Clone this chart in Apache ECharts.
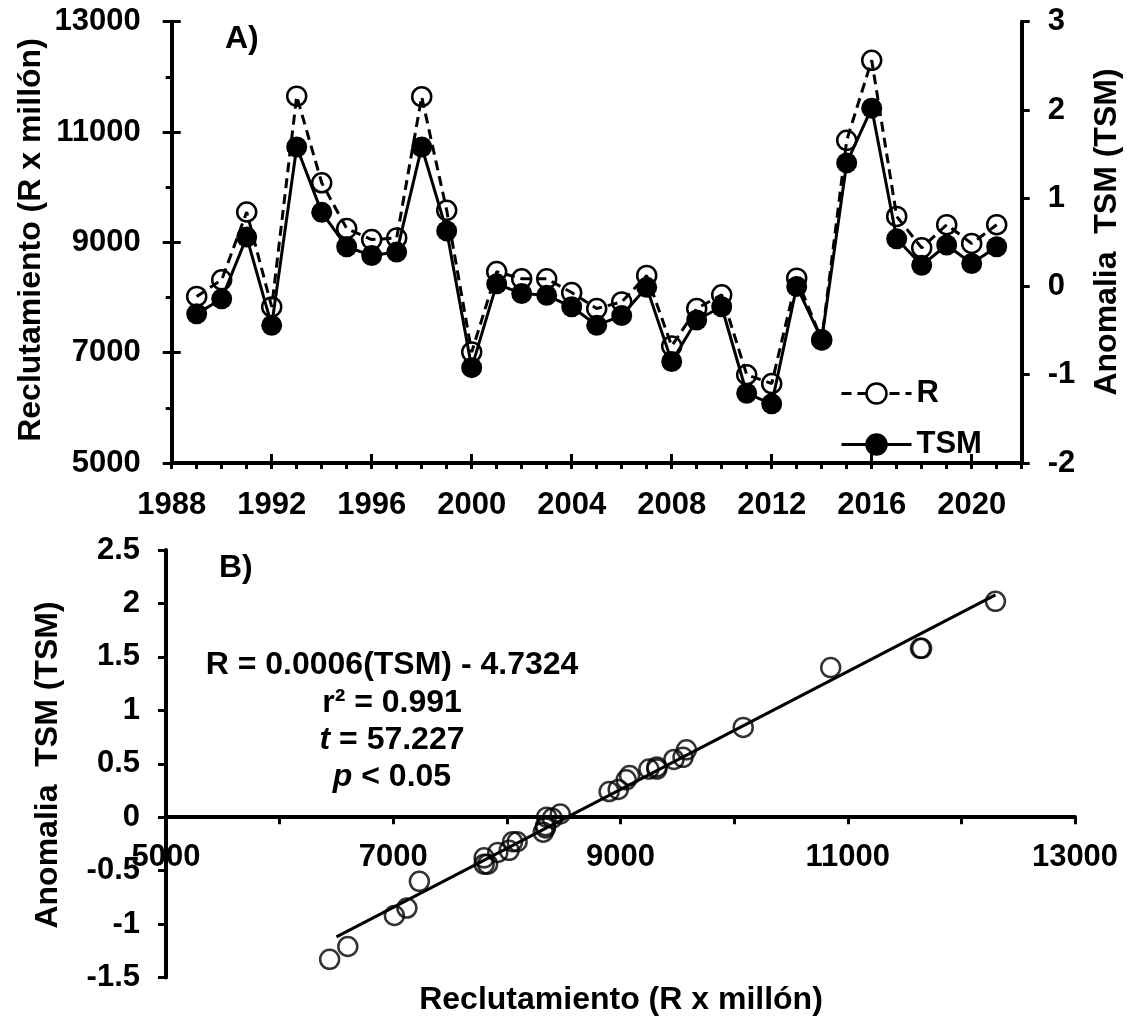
<!DOCTYPE html>
<html><head><meta charset="utf-8">
<script src="https://cdn.jsdelivr.net/npm/echarts@6/dist/echarts.min.js"></script>
<style>html,body{margin:0;padding:0;background:#fff}#c{width:1130px;height:1019px}</style>
</head><body><div id="c"></div>
<script>
// ---- data ----
const years = [1989,1990,1991,1992,1993,1994,1995,1996,1997,1998,1999,2000,2001,2002,2003,2004,2005,2006,2007,2008,2009,2010,2011,2012,2013,2014,2015,2016,2017,2018,2019,2020,2021];
const recruitment = [8020,8320,9550,7830,11650,10080,9250,9050,9080,11640,9580,7010,8470,8340,8340,8090,7800,7920,8400,7120,7800,8050,6600,6440,8350,7230,10850,12300,9470,8900,9320,8980,9320];
const sstAnomaly = [-0.31,-0.14,0.56,-0.44,1.58,0.84,0.45,0.35,0.39,1.58,0.63,-0.92,0.03,-0.08,-0.10,-0.23,-0.44,-0.33,-0.01,-0.85,-0.38,-0.23,-1.21,-1.33,0.0,-0.60,1.40,2.02,0.54,0.24,0.47,0.26,0.45];
const yearTickLabels = [1988,1992,1996,2000,2004,2008,2012,2016,2020];
const rTickLabelsB = [5000,7000,9000,11000,13000];
const fitR = [6500, 12300];
const fitTSM = [-1.12, 2.08];
const equationLines = ['R = 0.0006(TSM) - 4.7324', 'r² = 0.991', '{i|t} = 57.227', '{i|p} < 0.05'];

const FONT = '"Liberation Sans", Arial, Helvetica, sans-serif';
const lab = {fontFamily: FONT, fontWeight: 'bold', fontSize: 31, color: '#000'};
const axLine = {show: true, onZero: false, lineStyle: {color: '#000', width: 4}};
const tickLS = {color: '#000', width: 3};
const noSplit = {show: false};

// panel B layout
const gridB = {left: 166, top: 550, width: 909, height: 427.5};
const yMinB = -1.5, yMaxB = 2.5;
// move the B x-axis up to TSM = 0 (axis crosses at zero, as in the reference)
const xAxisBOffset = -gridB.height * (0 - yMinB) / (yMaxB - yMinB);

const chart = echarts.init(document.getElementById('c'), null, {renderer: 'canvas'});
const titleStyle = {fontFamily: FONT, fontWeight: 'bold', fontSize: 32, fill: '#000', align: 'center', verticalAlign: 'middle'};

chart.setOption({
  animation: false,
  backgroundColor: '#fff',
  grid: [
    {left: 171.7, top: 21.7, width: 850, height: 441.3, outerBoundsMode: 'none', containLabel: false},
    Object.assign({outerBoundsMode: 'none', containLabel: false}, gridB)
  ],
  xAxis: [
    {type: 'value', gridIndex: 0, position: 'bottom', offset: 0, min: 1988, max: 2022, interval: 4,
     axisLine: axLine, axisTick: {inside: true, length: 9, lineStyle: tickLS},
     axisLabel: Object.assign({}, lab, {margin: 27, formatter: v => yearTickLabels.includes(v) ? String(v) : ''}),
     splitLine: noSplit},
    {type: 'value', gridIndex: 0, position: 'bottom', offset: 0, min: 1988, max: 2022, interval: 1,
     axisLine: {show: false, onZero: false}, axisTick: {length: 6, lineStyle: tickLS},
     axisLabel: {show: false}, splitLine: noSplit},
    {type: 'value', gridIndex: 1, position: 'bottom', offset: xAxisBOffset, min: 5000, max: 13000, interval: 1000,
     axisLine: axLine,
     axisTick: {length: 7, lineStyle: tickLS},
     axisLabel: Object.assign({}, lab, {margin: 25, formatter: v => rTickLabelsB.includes(v) ? String(v) : ''}),
     splitLine: noSplit}
  ],
  yAxis: [
    {type: 'value', gridIndex: 0, position: 'left', min: 5000, max: 13000, interval: 2000,
     axisLine: axLine, axisTick: {length: 9, lineStyle: tickLS},
     minorTick: {show: true, splitNumber: 2, length: 6, lineStyle: tickLS},
     axisLabel: Object.assign({}, lab, {margin: 31, formatter: v => String(v)}), splitLine: noSplit, minorSplitLine: noSplit},
    {type: 'value', gridIndex: 0, position: 'right', min: -2, max: 3, interval: 1,
     axisLine: axLine, axisTick: {length: 8, lineStyle: tickLS},
     axisLabel: Object.assign({}, lab, {margin: 26, formatter: v => String(v)}), splitLine: noSplit},
    {type: 'value', gridIndex: 0, position: 'left', offset: 0, min: 5000, max: 13000, interval: 2000,
     axisLine: {show: false, onZero: false}, axisTick: {inside: true, length: 9, lineStyle: tickLS},
     axisLabel: {show: false}, splitLine: noSplit},
    {type: 'value', gridIndex: 1, position: 'left', min: yMinB, max: yMaxB, interval: 0.5,
     axisLine: axLine, axisTick: {length: 8, lineStyle: tickLS},
     axisLabel: Object.assign({}, lab, {margin: 26, formatter: v => String(v)}), splitLine: noSplit}
  ],
  legend: {
    data: [{name: 'R', itemStyle: {color: '#fff', borderColor: '#000', borderWidth: 2.5}}, 'TSM'],
    orient: 'vertical', left: 835, top: 373,
    itemWidth: 70, itemHeight: 25, itemGap: 20,
    lineStyle: {width: 3},
    itemStyle: {borderWidth: 2.5},
    textStyle: Object.assign({}, lab, {fontSize: 31}),
    selectedMode: false
  },
  series: [
    {name: 'R', type: 'line', xAxisIndex: 0, yAxisIndex: 0,
     data: years.map((y, i) => [y, recruitment[i]]),
     symbol: 'circle', symbolSize: 19,
     itemStyle: {color: 'rgba(255,255,255,0)', borderColor: '#000', borderWidth: 2.5},
     lineStyle: {color: '#000', width: 3, type: [10, 6]}, z: 2},
    {name: 'TSM', type: 'line', xAxisIndex: 0, yAxisIndex: 1,
     data: years.map((y, i) => [y, sstAnomaly[i]]),
     symbol: 'circle', symbolSize: 21,
     itemStyle: {color: '#000', borderColor: '#000', borderWidth: 0},
     lineStyle: {color: '#000', width: 3}, z: 3},
    {name: 'scatter', type: 'scatter', xAxisIndex: 2, yAxisIndex: 3,
     data: recruitment.map((r, i) => [r, sstAnomaly[i]]),
     symbol: 'circle', symbolSize: 19,
     itemStyle: {color: 'rgba(255,255,255,0)', borderColor: '#000', borderWidth: 2.5}, z: 3},
    {name: 'fit', type: 'line', xAxisIndex: 2, yAxisIndex: 3,
     data: fitR.map((r, i) => [r, fitTSM[i]]),
     symbol: 'none', lineStyle: {color: '#000', width: 3}, z: 2}
  ],
  graphic: [
    {type: 'text', x: 225, y: 39, style: Object.assign({}, titleStyle, {text: 'A)', align: 'left'})},
    {type: 'text', x: 219, y: 568, style: Object.assign({}, titleStyle, {text: 'B)', align: 'left'})},
    {type: 'text', x: 31, y: 240, rotation: Math.PI / 2, style: Object.assign({}, titleStyle, {text: 'Reclutamiento (R x millón)'})},
    {type: 'text', x: 1107, y: 232, rotation: Math.PI / 2, style: Object.assign({}, titleStyle, {text: 'Anomalia  TSM (TSM)'})},
    {type: 'text', x: 48, y: 765, rotation: Math.PI / 2, style: Object.assign({}, titleStyle, {text: 'Anomalia  TSM (TSM)'})},
    {type: 'text', x: 621, y: 1000, style: Object.assign({}, titleStyle, {text: 'Reclutamiento (R x millón)'})}
  ].concat(equationLines.map((t, i) => ({
    type: 'text', x: 392, y: [665, 703, 740, 777][i],
    style: Object.assign({}, titleStyle, {text: t,
      rich: {i: {fontFamily: FONT, fontWeight: 'bold', fontStyle: 'italic', fontSize: 32, fill: '#000'}}})
  })))
});
</script>
</body></html>
